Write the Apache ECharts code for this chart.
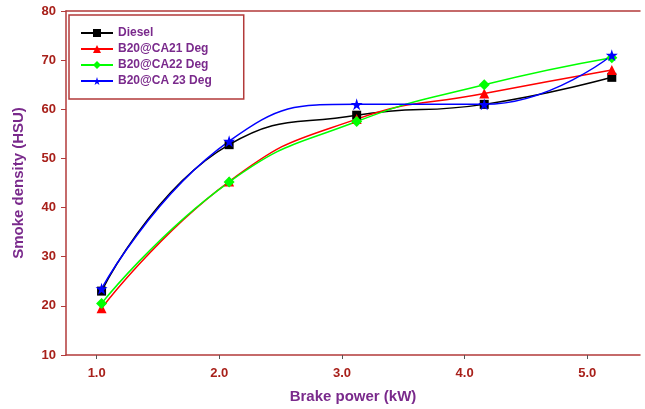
<!DOCTYPE html>
<html><head><meta charset="utf-8">
<script src="https://cdn.jsdelivr.net/npm/echarts@6/dist/echarts.min.js"></script>
<style>html,body{margin:0;padding:0;background:#fff}#c{width:645px;height:409px}</style>
</head><body><div id="c"></div>
<script>
const brakePower = [1.04, 2.08, 3.12, 4.16, 5.2];
const diesel = [23, 52.8, 58.8, 61, 66.5];
const ca21 = [19.5, 45.3, 58, 63.2, 68];
const ca22 = [20.5, 45.2, 57.5, 65, 70.5];
const ca23 = [23.5, 53.5, 61, 61, 71];
const xTicks = [1, 2, 3, 4, 5];
const seriesNames = ['Diesel', 'B20@CA21 Deg', 'B20@CA22 Deg', 'B20@CA 23 Deg'];

const axisRed = '#b23a3a';
const labelRed = '#a8201a';
const purple = '#7a2a8c';
const star = 'path://M50,0 L61,35 L98,35 L68,57 L79,91 L50,70 L21,91 L32,57 L2,35 L39,35 Z';

function pairs(ys){ return brakePower.map((x,i)=>[x, ys[i]]); }

const chart = echarts.init(document.getElementById('c'), null, {renderer:'canvas'});
const mk = (name, data, color, symbol, size) => ({
  name, type:'line', data: pairs(data), smooth:0.5,
  symbol, symbolSize:size, showSymbol:true,
  lineStyle:{color, width:1.5}, itemStyle:{color}, z: 3
});
chart.setOption({
  animation:false,
  textStyle:{fontFamily:'Liberation Sans, Arial, sans-serif'},
  grid:{left:66, top:11, right:5, bottom:52},
  legend:{
    left:69, top:15, orient:'vertical', itemWidth:32, itemHeight:10, itemGap:4,
    padding:[12,32,12,11], borderColor:axisRed, borderWidth:1.5,
    data: seriesNames,
    textStyle:{color:purple, fontWeight:'bold', fontSize:12, fontFamily:'Liberation Sans, Arial, sans-serif'}
  },
  xAxis:[{
    type:'value', min:0.75, max:5.43,
    name:'Brake power (kW)', nameLocation:'middle', nameGap:34,
    nameTextStyle:{color:purple, fontWeight:'bold', fontSize:15},
    axisLine:{show:true, lineStyle:{color:axisRed, width:1.5}},
    axisTick:{show:true, length:4, customValues:xTicks, lineStyle:{color:'#555'}},
    axisLabel:{customValues:xTicks, color:labelRed, fontWeight:'bold', fontSize:13, margin:12,
      formatter:v=>v.toFixed(1)},
    splitLine:{show:false}
  },{
    type:'value', position:'top', min:0.75, max:5.43,
    axisLine:{show:true, lineStyle:{color:axisRed, width:1.5}},
    axisTick:{show:false}, axisLabel:{show:false}, splitLine:{show:false}
  }],
  yAxis:{
    type:'value', min:10, max:80, interval:10,
    name:'Smoke density (HSU)', nameLocation:'middle', nameGap:40,
    nameTextStyle:{color:purple, fontWeight:'bold', fontSize:15},
    axisLine:{show:true, lineStyle:{color:axisRed, width:1.5}},
    axisTick:{show:true, length:5, lineStyle:{color:axisRed}},
    axisLabel:{color:labelRed, fontWeight:'bold', fontSize:13, margin:10},
    splitLine:{show:false}
  },
  series:[
    mk(seriesNames[0], diesel, '#000000', 'rect', 9),
    mk(seriesNames[1], ca21, '#ff0000', 'triangle', 10),
    mk(seriesNames[2], ca22, '#00ff00', 'diamond', 11),
    mk(seriesNames[3], ca23, '#0000ff', star, 12)
  ]
});
</script></body></html>
